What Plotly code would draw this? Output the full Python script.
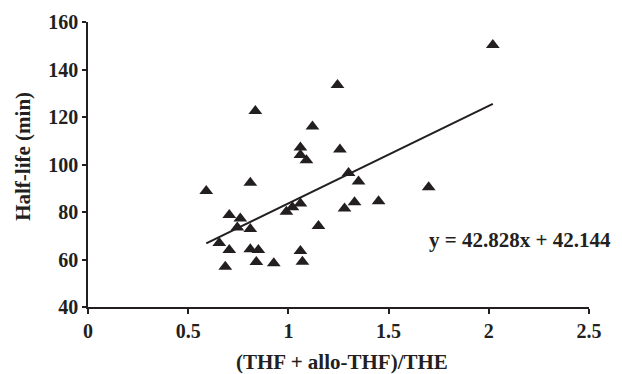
import plotly.graph_objects as go

# Data
ratio = [0.59, 0.81, 0.835, 0.705, 0.76, 0.745, 0.81, 0.655, 0.705, 0.81, 0.85,
         0.685, 0.84, 0.927, 0.99, 1.02, 1.06, 1.06, 1.07, 1.06, 1.06, 1.09,
         1.12, 1.15, 1.245, 1.257, 1.30, 1.35, 1.28, 1.33, 1.45, 1.70, 2.02]
half_life = [88.8, 92.3, 122.5, 78.7, 77.3, 73.5, 72.8, 67.0, 64.0, 64.3, 64.0,
             57.0, 59.0, 58.4, 80.1, 82.0, 83.6, 63.6, 59.1, 107.2, 104.0, 101.8,
             116.0, 74.1, 133.5, 106.3, 96.4, 92.8, 81.5, 84.1, 84.5, 90.4, 150.3]

# Trend line end points as drawn in the reference
trend_x = [0.59, 2.02]
trend_y = [66.8, 125.5]
equation_text = "y = 42.828x + 42.144"

x_tickvals = [0, 0.5, 1, 1.5, 2, 2.5]
x_ticktext = ["0", "0.5", "1", "1.5", "2", "2.5"]
y_tickvals = [40, 60, 80, 100, 120, 140, 160]
y_ticktext = ["40", "60", "80", "100", "120", "140", "160"]

FONT = "Liberation Serif"
INK = "#231f20"

fig = go.Figure()
fig.add_trace(go.Scatter(x=trend_x, y=trend_y, mode="lines",
                         line=dict(color=INK, width=2), hoverinfo="skip"))
fig.add_trace(go.Scatter(x=ratio, y=half_life, mode="markers",
                         marker=dict(symbol="triangle-up", size=12, color=INK,
                                     line=dict(width=0))))

axis_common = dict(showgrid=False, zeroline=False, showline=True, linecolor=INK,
                   linewidth=1.5, ticks="outside", tickcolor=INK, tickwidth=1.5,
                   automargin=False,
                   tickfont=dict(family=FONT, size=20, color=INK))

fig.update_layout(
    width=614, height=366,
    margin=dict(l=80, r=33, t=14, b=67),
    paper_bgcolor="white", plot_bgcolor="white",
    showlegend=False,
    font=dict(family=FONT, color=INK, size=20),
    xaxis=dict(range=[0, 2.5], tickvals=x_tickvals,
               ticktext=["<b>" + t + "</b>" for t in x_ticktext],
               ticklen=5, **axis_common),
    yaxis=dict(range=[40, 160], tickvals=y_tickvals,
               ticktext=["<b>" + t + "</b>" for t in y_ticktext],
               ticklen=4, **axis_common),
    annotations=[
        dict(text="<b>Half-life (min)</b>", xref="paper", yref="paper",
             x=-0.13, y=0.53, xanchor="center", yanchor="middle",
             textangle=-90, showarrow=False,
             font=dict(family=FONT, size=21, color=INK)),
        dict(text="<b>(THF + allo-THF)/THE</b>", xref="paper", yref="paper",
             x=0.506, y=-0.193, xanchor="center", yanchor="middle",
             showarrow=False, font=dict(family=FONT, size=21, color=INK)),
        dict(text="<b>" + equation_text + "</b>", xref="x", yref="y",
             x=2.158, y=68.2, xanchor="center", yanchor="middle",
             showarrow=False, font=dict(family=FONT, size=21, color=INK)),
    ],
)

fig.write_html("out.html")
